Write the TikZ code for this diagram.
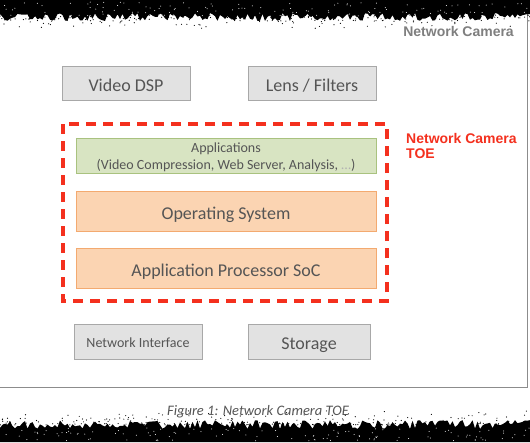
\documentclass[tikz,border=0pt]{standalone}
\usepackage{fontspec}
\setmainfont{Carlito}
\newfontfamily\arialfont{Liberation Sans}
\usetikzlibrary{shadows}
\definecolor{txtgray}{HTML}{555555}
\definecolor{boxfill}{HTML}{E2E2E2}
\definecolor{boxline}{HTML}{A8A8A8}
\definecolor{greenfill}{HTML}{D8E4C2}
\definecolor{greenline}{HTML}{A9C27F}
\definecolor{orangefill}{HTML}{FBD4B2}
\definecolor{orangeline}{HTML}{F3AA70}
\definecolor{toered}{HTML}{F4301E}
\definecolor{framegray}{HTML}{8C8C8C}
\definecolor{labelgray}{HTML}{7F7F7F}
\tikzset{
  blk/.style={rectangle, draw=boxline, fill=boxfill, line width=1pt, text=txtgray,
    inner sep=0pt, drop shadow={opacity=0.25, shadow xshift=0.8pt, shadow yshift=-1pt}},
  bigtxt/.style={font=\fontsize{18}{21}\selectfont, text height=18pt, text depth=2pt},
  smalltxt/.style={font=\fontsize{14}{16.5}\selectfont, text height=14pt, text depth=1.4pt},
  greenbox/.style={blk, draw=greenline, fill=greenfill},
  orangebox/.style={blk, draw=orangeline, fill=orangefill},
  toebox/.style={draw=toered, line width=3.5pt, dash pattern=on 10pt off 7pt},
  toelabel/.style={text=toered, font=\arialfont\bfseries\fontsize{14}{16}\selectfont, inner sep=0pt, anchor=west},
}
\begin{document}
\begin{tikzpicture}[x=1pt,y=-1pt]
\useasboundingbox (0,0) rectangle (530,442);
\fill[white] (0,0) rectangle (530,442);
% outer frame
\draw[framegray, line width=1.5pt] (-2,-5) rectangle (527.5,387.5);
\node[anchor=east, inner sep=0pt, text=labelgray, font=\arialfont\bfseries\fontsize{14}{16}\selectfont] (cam) at (514,31) {Network Camera};
% torn edges
\pgfmathsetseed{7}
\fill[black] (0,0) \foreach \x in {0,2.5,...,530} { -- (\x,{13+8*rnd}) } -- (530,18) -- (530,0) -- cycle;
\foreach \i in {1,...,260} { \fill[black] ({530*rnd},{15+14*rnd*rnd}) circle (0.6pt); }
\foreach \i in {1,...,120} { \fill[white] ({530*rnd},{2+14*rnd}) circle (0.5pt); }
\fill[black] (0,442) \foreach \x in {0,2.5,...,530} { -- (\x,{420+9*rnd}) } -- (530,424) -- (530,442) -- cycle;
\foreach \i in {1,...,260} { \fill[black] ({530*rnd},{425-16*rnd*rnd}) circle (0.6pt); }
\foreach \i in {1,...,120} { \fill[white] ({530*rnd},{428+13*rnd}) circle (0.5pt); }
% boxes
\node[blk, bigtxt, minimum width=128pt, minimum height=34pt] (dsp) at (126,83) {Video DSP};
\node[blk, bigtxt, minimum width=128pt, minimum height=34pt] (lens) at (312,83) {Lens / Filters};
\node[greenbox, minimum width=300pt, minimum height=35pt] (apps) at (226,155.5) {};
\node[text=txtgray, font=\fontsize{14}{17}\selectfont, align=center, inner sep=0pt] (appstxt) at ([yshift=-1.5pt]apps.center) {Applications\\(Video Compression, Web Server, Analysis, \textcolor{txtgray!45}{\ldots})};
\node[orangebox, bigtxt, minimum width=300pt, minimum height=40pt] (os) at (226,211) {Operating System};
\node[orangebox, bigtxt, minimum width=300pt, minimum height=40pt] (soc) at (226,268) {Application Processor SoC};
\node[blk, smalltxt, minimum width=128pt, minimum height=35pt] (netif) at (138,341.5) {Network Interface};
\node[blk, bigtxt, minimum width=122pt, minimum height=35pt] (stor) at (309,341.5) {Storage};
% TOE boundary
\draw[toebox] (63,124) rectangle (387,301);
\node[toelabel] (toe1) at (406,138) {Network Camera};
\node[toelabel] (toe2) at (406,154) {TOE};
% caption
\node[text=txtgray, font=\itshape\fontsize{14.5}{17}\selectfont, inner sep=0pt] (cap) at (258,412) {Figure 1: Network Camera TOE};
\end{tikzpicture}
\end{document}
